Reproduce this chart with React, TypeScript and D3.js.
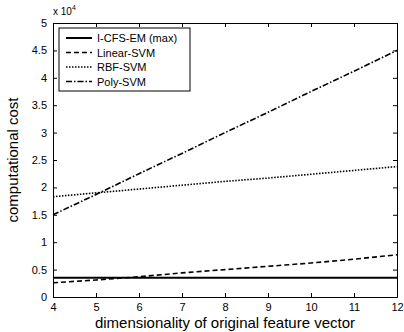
import React, { useEffect, useRef } from 'react';
import * as d3 from 'd3';

const dims = [4, 5, 6, 7, 8, 9, 10, 11, 12];
const icfsem = [0.35, 0.35, 0.35, 0.35, 0.35, 0.35, 0.35, 0.35, 0.35];
const linearSvm = [0.26, 0.31, 0.37, 0.44, 0.5, 0.56, 0.62, 0.69, 0.77];
const rbfSvm = [1.83, 1.9, 1.97, 2.04, 2.11, 2.17, 2.24, 2.31, 2.38];
const polySvm = [1.5, 1.87, 2.25, 2.62, 3.0, 3.37, 3.75, 4.12, 4.5];
const seriesNames = ['I-CFS-EM (max)', 'Linear-SVM', 'RBF-SVM', 'Poly-SVM'];
const dashes = ['', '5,3', '1.5,1.5', '6,2,1.5,2'];
const yTicks = [0, 0.5, 1, 1.5, 2, 2.5, 3, 3.5, 4, 4.5, 5];

const App = () => {
    const ref = useRef<SVGSVGElement>(null);

    useEffect(() => {
        const svg = d3.select(ref.current);
        svg.selectAll('*').remove();

        const margin = { top: 23, right: 7, bottom: 35, left: 53 },
            width = 404 - margin.left - margin.right,
            height = 332 - margin.top - margin.bottom;

        svg.append('rect').attr('width', 404).attr('height', 332).attr('fill', '#fff');

        const g = svg.append('g').attr('transform', `translate(${margin.left},${margin.top})`);

        const x = d3.scaleLinear().domain([4, 12]).range([0, width]);
        const y = d3.scaleLinear().domain([0, 5]).range([height, 0]);

        // axes, MATLAB style with inward ticks on all four sides
        const font = 'Arial, Liberation Sans, sans-serif';
        const bottom = g.append('g').attr('transform', `translate(0,${height})`)
            .call(d3.axisBottom(x).tickValues(dims).tickSize(-4).tickPadding(6).tickFormat(d3.format('d')));
        const left = g.append('g')
            .call(d3.axisLeft(y).tickValues(yTicks).tickSize(-4).tickPadding(6).tickFormat(d => String(d)));
        g.append('g')
            .call(d3.axisTop(x).tickValues(dims).tickSize(-4).tickFormat(() => ''));
        g.append('g').attr('transform', `translate(${width},0)`)
            .call(d3.axisRight(y).tickValues(yTicks).tickSize(-4).tickFormat(() => ''));
        g.selectAll('.domain').attr('stroke', '#000');
        g.selectAll('.tick line').attr('stroke', '#000');
        [bottom, left].forEach(a => a.selectAll('text')
            .attr('font-family', font).attr('font-size', 11).attr('fill', '#000'));

        g.append('text')
            .attr('x', 0).attr('y', -8)
            .attr('font-family', font).attr('font-size', 10)
            .text('x 10')
            .append('tspan').attr('dy', -5).attr('font-size', 7).text('4');

        const series = [icfsem, linearSvm, rbfSvm, polySvm];
        const line = d3.line<number>().x((d, i) => x(dims[i])).y(d => y(d));
        series.forEach((s, i) => {
            g.append('path')
                .datum(s)
                .attr('fill', 'none')
                .attr('stroke', '#000')
                .attr('stroke-width', i === 0 ? 2 : 1.6)
                .attr('stroke-dasharray', dashes[i])
                .attr('d', line);
        });

        // legend
        const lg = g.append('g').attr('transform', 'translate(6,5)');
        lg.append('rect').attr('width', 131).attr('height', 63)
            .attr('fill', '#fff').attr('stroke', '#000').attr('stroke-width', 1);
        seriesNames.forEach((name, i) => {
            const yy = 10 + i * 14.5;
            lg.append('line')
                .attr('x1', 7).attr('x2', 33).attr('y1', yy).attr('y2', yy)
                .attr('stroke', '#000').attr('stroke-width', i === 0 ? 2 : 1.6)
                .attr('stroke-dasharray', dashes[i]);
            lg.append('text')
                .attr('x', 38).attr('y', yy + 4)
                .attr('font-family', font).attr('font-size', 11)
                .text(name);
        });

        svg.append('text')
            .attr('transform', `translate(18,${margin.top + height / 2}) rotate(-90)`)
            .attr('text-anchor', 'middle')
            .attr('font-family', font).attr('font-size', 15)
            .text('computational cost');

        svg.append('text')
            .attr('x', margin.left + width / 2).attr('y', 328)
            .attr('text-anchor', 'middle')
            .attr('font-family', font).attr('font-size', 15)
            .text('dimensionality of original feature vector');
    }, []);

    return <svg ref={ref} width={404} height={332} style={{ position: 'absolute', left: 0, top: 0 }} />;
};

export default App;
